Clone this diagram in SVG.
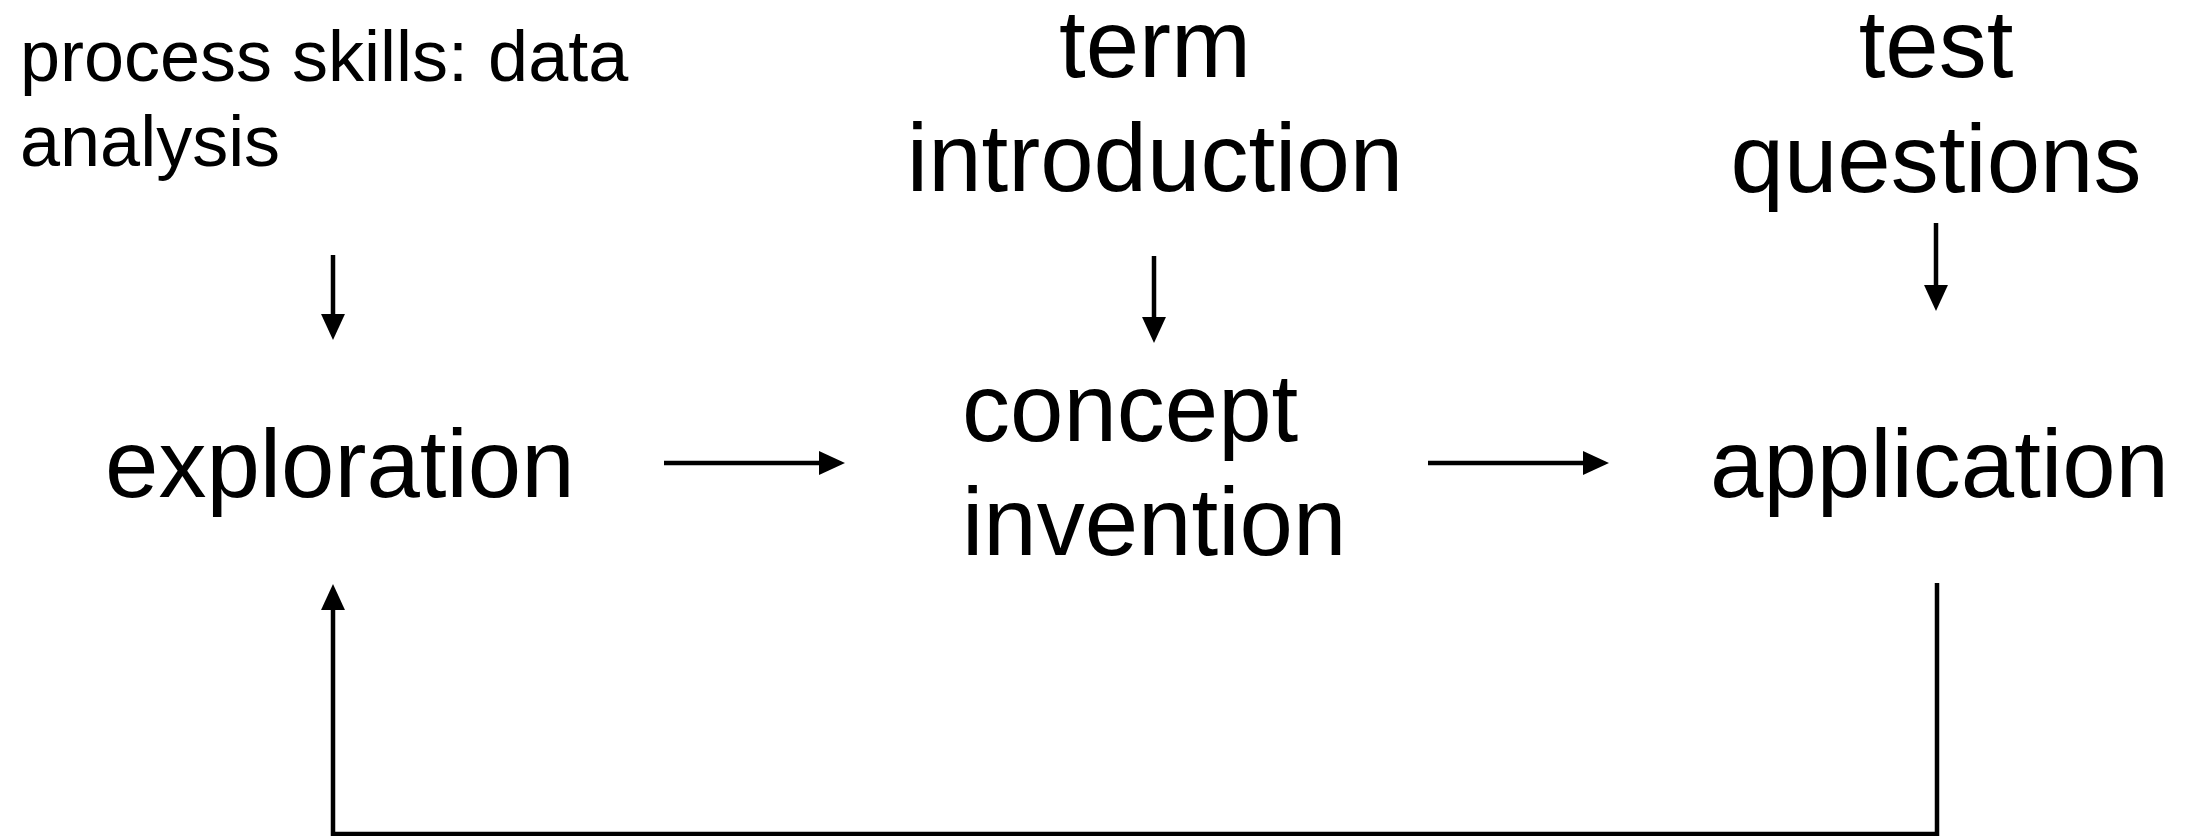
<svg xmlns="http://www.w3.org/2000/svg" width="2202" height="836" viewBox="0 0 2202 836">
  <style>
    .lbl { font-family: "Liberation Sans", Arial, Helvetica, sans-serif; fill: #000; }
    .big { font-size: 96px; }
    .small { font-size: 72px; }
    .mid { text-anchor: middle; }
    .conn { fill: none; stroke: #000; stroke-width: 4.5; }
  </style>
  <defs>
    <!-- filled triangular head; the shaft ends at its base -->
    <marker id="head" markerUnits="userSpaceOnUse" markerWidth="26" markerHeight="24" refX="0" refY="11.5" orient="auto" viewBox="0 0 25 23">
      <path d="M0,0 L25,11.5 L0,23 z" fill="#000"/>
    </marker>
  </defs>
  <rect width="2202" height="836" fill="#fff"/>

  <g id="node-process-skills">
    <text class="lbl small" x="20" y="81">process skills: data</text>
    <text class="lbl small" x="20" y="166">analysis</text>
  </g>
  <g id="node-term-introduction">
    <text class="lbl big mid" x="1155" y="77">term</text>
    <text class="lbl big mid" x="1155" y="191">introduction</text>
  </g>
  <g id="node-test-questions">
    <text class="lbl big mid" x="1936" y="77">test</text>
    <text class="lbl big mid" x="1936" y="192">questions</text>
  </g>
  <g id="node-exploration">
    <text class="lbl big" x="105" y="497">exploration</text>
  </g>
  <g id="node-concept-invention">
    <text class="lbl big" x="962" y="441">concept</text>
    <text class="lbl big" x="962" y="555">invention</text>
  </g>
  <g id="node-application">
    <text class="lbl big" x="1710" y="497">application</text>
  </g>

  <g id="connectors">
    <line class="conn" x1="333" y1="255" x2="333" y2="314" marker-end="url(#head)"/>
    <line class="conn" x1="1154" y1="256" x2="1154" y2="317" marker-end="url(#head)"/>
    <line class="conn" x1="1936" y1="223" x2="1936" y2="285" marker-end="url(#head)"/>
    <line class="conn" x1="664" y1="463" x2="819" y2="463" marker-end="url(#head)"/>
    <line class="conn" x1="1428" y1="463" x2="1583" y2="463" marker-end="url(#head)"/>
    <path class="conn" d="M1937,583 V834 H333 V610" marker-end="url(#head)"/>
  </g>
</svg>
